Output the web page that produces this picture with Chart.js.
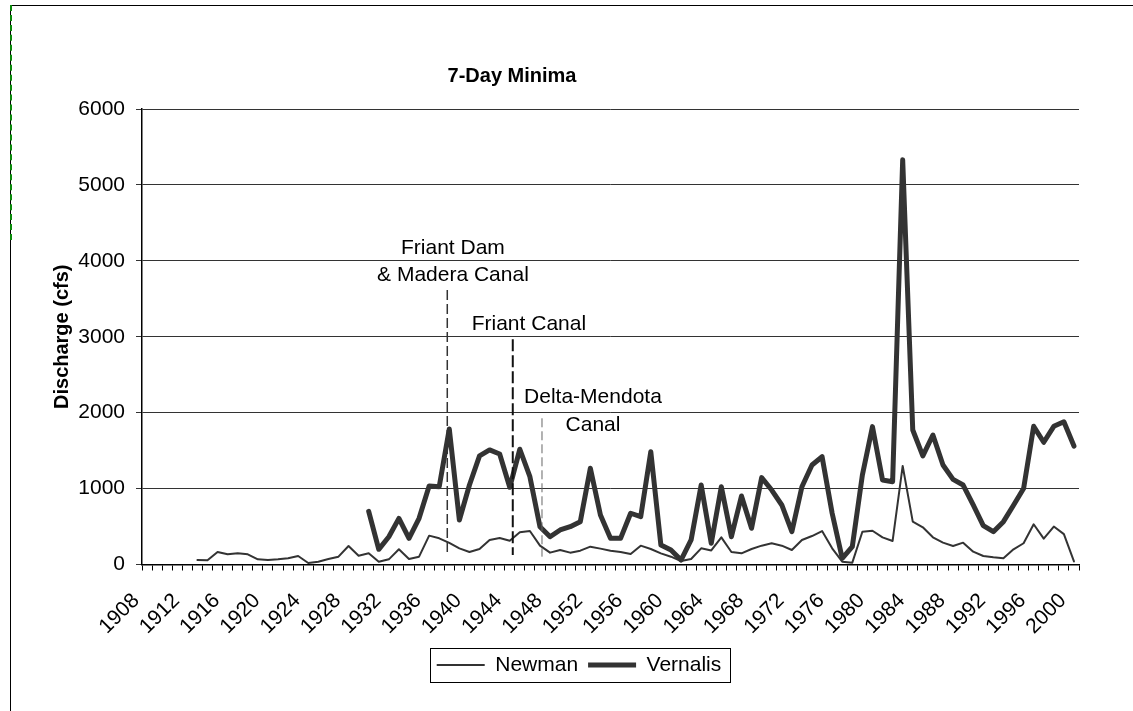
<!DOCTYPE html>
<html>
<head>
<meta charset="utf-8">
<title>7-Day Minima</title>
<script src="https://cdn.jsdelivr.net/npm/chart.js@4.4.1/dist/chart.umd.min.js"></script>
<style>
  body { margin: 0; background: #fff; }
  #wrap { position: relative; width: 1133px; height: 711px; overflow: hidden; }
  #frame { position: absolute; left: 10px; top: 5px; right: 0; bottom: 0; border-top: 1px solid #000; border-left: 1px solid #000; }
  #greenEdge { position: absolute; left: 10px; top: 5px; height: 235px; border-left: 2px dashed #0a8a0a; }
  #chart { position: absolute; left: 0; top: 0; }
</style>
</head>
<body>
<div id="wrap">
  <div id="frame"></div>
  <div id="greenEdge"></div>
  <canvas id="chart" width="1133" height="711"></canvas>
</div>
<script>
// years on the category axis, 1908 .. 2000
const years = [];
for (let y = 1908; y <= 2000; y++) years.push(String(y));

// Newman, 7-day minimum discharge (cfs), starts 1913
const newman = [
  null, null, null, null, null,
  59, 55, 165, 134, 147, 134, 68, 59, 68, 82,          // 1913-1922
  112, 20, 37, 72, 103, 244, 116, 147, 37, 68,         // 1923-1932
  200, 72, 103, 380, 345, 285, 213, 165, 204, 323,     // 1933-1942
  349, 314, 424, 441, 248, 156, 191, 156, 182, 235,    // 1943-1952
  209, 182, 165, 138, 248, 204, 147, 103, 46, 72,      // 1953-1962
  213, 185, 358, 165, 147, 204, 248, 279, 248, 191,    // 1963-1972
  323, 375, 441, 213, 37, 24, 432, 445, 358, 310,      // 1973-1982
  1298, 564, 490, 358, 288, 244, 288, 169, 112, 95,    // 1983-1992
  82, 200, 280, 530, 340, 500, 400, 40                 // 1993-2000
];

// Vernalis, 7-day minimum discharge (cfs), starts 1930
const vernalis = [
  null, null, null, null, null, null, null, null, null, null, null,
  null, null, null, null, null, null, null, null, null, null, null,
  700, 200, 366, 608, 345, 608, 1034, 1025, 1785, 586,       // 1930-1939
  1047, 1430, 1509, 1456, 1017, 1518, 1157, 498, 366, 455,   // 1940-1949
  498, 564, 1267, 652, 345, 345, 675, 630, 1486, 257,        // 1950-1959
  191, 59, 323, 1047, 279, 1025, 366, 902, 477, 1144,        // 1960-1969
  981, 784, 432, 1025, 1311, 1420, 675, 82, 235, 1179,       // 1970-1979
  1816, 1113, 1091, 5330, 1772, 1430, 1706, 1311, 1122, 1047, // 1980-1989
  784, 511, 432, 564, 780, 1000, 1820, 1610, 1820, 1880,     // 1990-1999
  1560                                                       // 2000
];

const yTicks = [0, 1000, 2000, 3000, 4000, 5000, 6000];

// project milestones drawn as dashed markers (year, top and bottom in cfs)
const markers = [
  { year: 1937.8, top: 3616, bottom: 148, width: 1.5, dash: [10, 4], color: '#333' },
  { year: 1944.3, top: 2967, bottom: 125, width: 2, dash: [12, 4], color: '#111' },
  { year: 1947.2, top: 1926, bottom: 103, width: 1, dash: [9, 4], color: '#666' }
];
const notes = [
  { text: 'Friant Dam', year: 1938.36, value: 4170 },
  { text: '& Madera Canal', year: 1938.36, value: 3814 },
  { text: 'Friant Canal', year: 1945.9, value: 3169 },
  { text: 'Delta-Mendota', year: 1952.26, value: 2207 },
  { text: 'Canal', year: 1952.26, value: 1838 }
];

const FONT = '"Liberation Sans", Arial, Helvetica, sans-serif';
Chart.defaults.font.family = FONT;
Chart.defaults.font.size = 21;
Chart.defaults.color = '#000';

const markerPlugin = {
  id: 'markers',
  afterDatasetsDraw(chart) {
    const ctx = chart.ctx;
    const x = chart.scales.x, y = chart.scales.y;
    const toX = yr => x.getPixelForValue(yr - Number(years[0]));
    ctx.save();
    markers.forEach(m => {
      ctx.beginPath();
      ctx.setLineDash(m.dash);
      ctx.lineWidth = m.width;
      ctx.strokeStyle = m.color;
      const px = toX(m.year);
      ctx.moveTo(px, y.getPixelForValue(m.top));
      ctx.lineTo(px, y.getPixelForValue(m.bottom));
      ctx.stroke();
    });
    ctx.setLineDash([]);
    ctx.fillStyle = '#000';
    ctx.font = '21px ' + FONT;
    ctx.textAlign = 'center';
    ctx.textBaseline = 'middle';
    notes.forEach(n => {
      ctx.fillText(n.text, toX(n.year), y.getPixelForValue(n.value));
    });
    ctx.restore();
  }
};

// title and legend were placed by hand in the original, not centred on the canvas
const recenter = {
  id: 'recenter',
  afterLayout(chart) {
    const move = (b, c) => {
      if (!b) return;
      const dx = c - (b.left + b.right) / 2;
      b.left += dx;
      b.right += dx;
    };
    move(chart.titleBlock, 512);
    move(chart.legend, 579);
  }
};

// thin frame round the legend, like the spreadsheet original
const legendFrame = {
  id: 'legendFrame',
  afterDraw(chart) {
    const boxes = chart.legend.legendHitBoxes;
    if (!boxes || !boxes.length) return;
    const left = Math.min(...boxes.map(b => b.left)) - 7;
    const right = Math.max(...boxes.map(b => b.left + b.width)) + 8;
    const mid = boxes[0].top + boxes[0].height / 2;
    const ctx = chart.ctx;
    ctx.save();
    ctx.strokeStyle = '#000';
    ctx.lineWidth = 1;
    ctx.strokeRect(Math.round(left) + 0.5, Math.round(mid - 17) + 0.5, Math.round(right - left), 34);
    ctx.restore();
  }
};

new Chart(document.getElementById('chart'), {
  type: 'line',
  data: {
    labels: years,
    datasets: [
      { label: 'Newman', data: newman, borderColor: '#333', backgroundColor: '#333', borderWidth: 2,
        pointRadius: 0, tension: 0, borderJoinStyle: 'round', borderCapStyle: 'round' },
      { label: 'Vernalis', data: vernalis, borderColor: '#333', backgroundColor: '#333', borderWidth: 5,
        pointRadius: 0, tension: 0, borderJoinStyle: 'round', borderCapStyle: 'round' }
    ]
  },
  options: {
    responsive: false,
    animation: false,
    layout: { padding: { left: 40, right: 54, top: 0, bottom: 25.5 } },
    plugins: {
      title: {
        display: true,
        text: '7-Day Minima',
        font: { size: 20, weight: 'bold' },
        color: '#000',
        padding: { top: 64, bottom: 21 }
      },
      legend: {
        position: 'bottom',
        labels: {
          usePointStyle: true,
          pointStyle: 'line',
          pointStyleWidth: 48,
          padding: 10,
          color: '#000',
          font: { size: 21 }
        }
      },
      tooltip: { enabled: false }
    },
    scales: {
      x: {
        type: 'category',
        offset: true,
        grid: { display: true, offset: true, drawOnChartArea: false, drawTicks: true, tickLength: 6, color: '#000' },
        border: { display: true, color: '#000', width: 1.5 },
        ticks: {
          autoSkip: false,
          maxRotation: 45,
          minRotation: 45,
          padding: 18,
          labelOffset: -11,
          color: '#000',
          font: { size: 21 },
          callback: function (value, index) {
            return index % 4 === 0 ? this.getLabelForValue(value) : '';
          }
        },
        afterFit: s => { s.height = 80; }
      },
      y: {
        min: 0,
        max: 6000,
        afterBuildTicks: s => { s.ticks = yTicks.map(v => ({ value: v })); },
        grid: { color: '#333', lineWidth: 1, tickLength: 6, drawTicks: true },
        border: { display: true, color: '#000', width: 1.5 },
        ticks: { padding: 11, color: '#000', font: { size: 21 }, callback: v => String(v) },
        title: {
          display: true,
          text: 'Discharge (cfs)',
          font: { size: 20, weight: 'bold' },
          color: '#000',
          padding: { top: 10.5, bottom: 0 }
        },
        afterFit: s => { s.width = 102; }
      }
    }
  },
  plugins: [markerPlugin, recenter, legendFrame]
});
</script>
</body>
</html>
